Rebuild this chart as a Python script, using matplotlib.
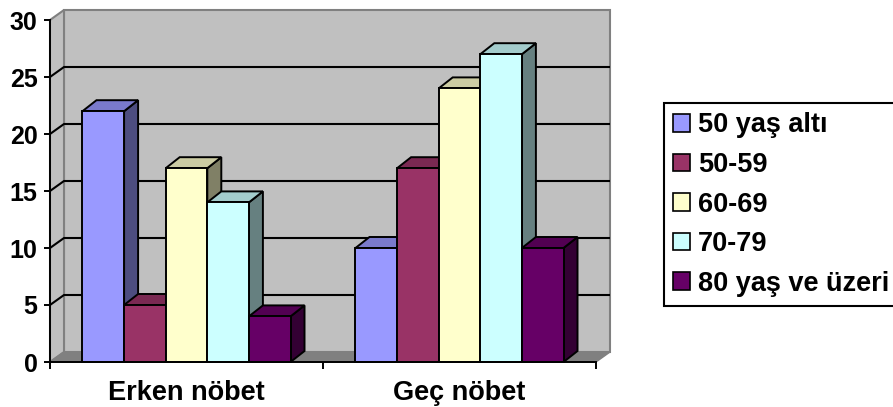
import matplotlib.pyplot as plt
from matplotlib.patches import Polygon, Patch
import numpy as np

plt.rcParams['font.family'] = ['Liberation Sans', 'DejaVu Sans']
plt.rcParams['font.weight'] = 'bold'

categories = ['Erken nöbet', 'Geç nöbet']
series = ['50 yaş altı', '50-59', '60-69', '70-79', '80 yaş ve üzeri']
values = [
    [22, 10],   # 50 yaş altı
    [5, 17],    # 50-59
    [17, 24],   # 60-69
    [14, 27],   # 70-79
    [4, 10],    # 80 yaş ve üzeri
]
colors = ['#9999FF', '#993366', '#FFFFCC', '#CCFFFF', '#660066']
y_ticks = [0, 5, 10, 15, 20, 25, 30]


def shade(hex_color, k):
    rgb = np.array([int(hex_color[i:i + 2], 16) for i in (1, 3, 5)]) / 255.0
    return tuple(rgb * k)


W, H = 893, 407
fig = plt.figure(figsize=(W / 100, H / 100), dpi=100)
# axes box = front plane of the 3d plot, in pixels
left, right, bottom, top = 50, 596, 362, 20
ax = fig.add_axes([left / W, 1 - bottom / H, (right - left) / W, (bottom - top) / H])
ax.set_xlim(0, len(categories))
ax.set_ylim(0, 30)

# depth offsets (pixels -> data units)
px_x = (right - left) / len(categories)
px_y = (bottom - top) / 30
wall_dx, wall_dy = 14 / px_x, 10 / px_y
bar_dx, bar_dy = 14 / px_x, 11 / px_y

wall_grey = '#C0C0C0'
edge_grey = '#808080'
n_cat = len(categories)
ymax = y_ticks[-1]

# back wall, side wall and floor
back = Polygon([(wall_dx, wall_dy), (n_cat + wall_dx, wall_dy),
                (n_cat + wall_dx, ymax + wall_dy), (wall_dx, ymax + wall_dy)],
               closed=True, facecolor=wall_grey, edgecolor=edge_grey, lw=1.5,
               clip_on=False, zorder=1)
side = Polygon([(0, 0), (wall_dx, wall_dy), (wall_dx, ymax + wall_dy), (0, ymax)],
               closed=True, facecolor=wall_grey, edgecolor=edge_grey, lw=1.5,
               clip_on=False, zorder=1)
floor = Polygon([(0, 0), (n_cat, 0), (n_cat + wall_dx, wall_dy), (wall_dx, wall_dy)],
                closed=True, facecolor=edge_grey, edgecolor=edge_grey, lw=1.0,
                clip_on=False, zorder=1.5)
for p in (back, side, floor):
    ax.add_patch(p)

# gridlines on the walls
for v in y_ticks[1:-1]:
    ax.plot([0, wall_dx, n_cat + wall_dx], [v, v + wall_dy, v + wall_dy],
            color='black', lw=1.5, clip_on=False, zorder=2, solid_capstyle='butt')

# 3d bars
group_w = 0.762
bw = group_w / len(series)
z = 3
for i in range(n_cat):
    x_start = i + 0.5 - group_w / 2
    for j, name in enumerate(series):
        v = values[j][i]
        x0, x1 = x_start + j * bw, x_start + (j + 1) * bw
        c = colors[j]
        faces = [
            ([(x1, 0), (x1 + bar_dx, bar_dy), (x1 + bar_dx, v + bar_dy), (x1, v)], shade(c, 0.5)),
            ([(x0, v), (x0 + bar_dx, v + bar_dy), (x1 + bar_dx, v + bar_dy), (x1, v)], shade(c, 0.8)),
            ([(x0, 0), (x1, 0), (x1, v), (x0, v)], c),
        ]
        for pts, fc in faces:
            ax.add_patch(Polygon(pts, closed=True, facecolor=fc, edgecolor='black',
                                 lw=1.4, joinstyle='miter', clip_on=False, zorder=z))
        z += 1

# axes
for s in ('top', 'right'):
    ax.spines[s].set_visible(False)
for s in ('left', 'bottom'):
    ax.spines[s].set_linewidth(1.4)
    ax.spines[s].set_zorder(50)
ax.set_yticks(y_ticks)
ax.set_yticklabels([str(t) for t in y_ticks], fontsize=18, fontweight='bold')
ax.tick_params(axis='y', length=4, width=1.4, pad=5)
ax.set_xticks(np.arange(n_cat + 1))
ax.set_xticklabels([])
ax.tick_params(axis='x', which='major', length=5, width=1.4)
ax.set_xticks(np.arange(n_cat) + 0.5, minor=True)
ax.set_xticklabels(categories, minor=True, fontsize=19.5, fontweight='bold')
ax.tick_params(axis='x', which='minor', length=0, pad=13)
ax.patch.set_visible(False)

handles = [Patch(facecolor=c, edgecolor='black', lw=1.2) for c in colors]
leg = fig.legend(handles, series, loc='upper left',
                 bbox_to_anchor=(664 / W, 1 - 103 / H),
                 prop={'family': 'Liberation Sans', 'weight': 'bold', 'size': 19.5},
                 frameon=True, fancybox=False, framealpha=1, edgecolor='black',
                 handlelength=0.6, handleheight=0.6, handletextpad=0.3,
                 labelspacing=0.5, borderpad=0.35, borderaxespad=0)
leg.get_frame().set_linewidth(1.5)

fig.savefig('out.png', dpi=100)
